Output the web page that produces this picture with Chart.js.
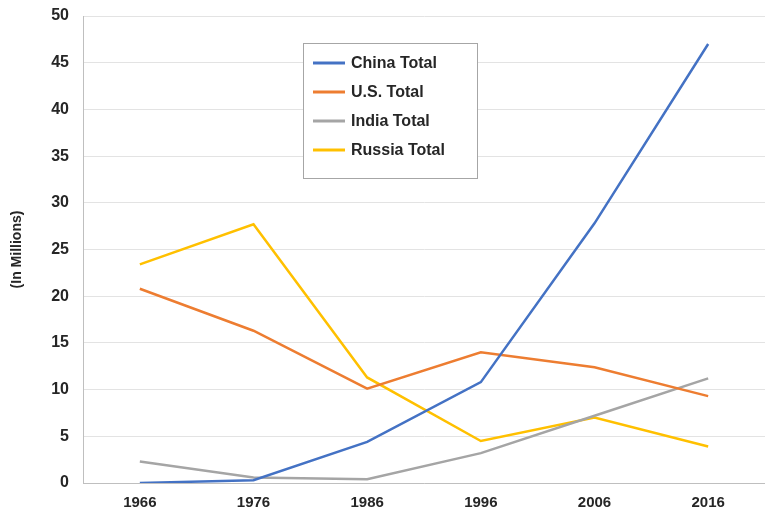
<!DOCTYPE html>
<html>
<head>
<meta charset="utf-8">
<script src="https://cdn.jsdelivr.net/npm/chart.js@4.4.0/dist/chart.umd.min.js"></script>
<style>
  html, body { margin: 0; padding: 0; background: #fff; }
  .chart-wrap { width: 765px; height: 517px; position: relative; }
</style>
</head>
<body>
<div class="chart-wrap"><canvas id="myChart"></canvas></div>
<script>
const years = ['1966', '1976', '1986', '1996', '2006', '2016']

const chinaTotal  = [0.0, 0.3, 4.4, 10.8, 27.8, 47.0]
const usTotal     = [20.8, 16.3, 10.1, 14.0, 12.4, 9.3]
const indiaTotal  = [2.3, 0.6, 0.4, 3.2, 7.2, 11.2]
const russiaTotal = [23.4, 27.7, 11.3, 4.5, 7.0, 3.9]

const yTicks = [0, 5, 10, 15, 20, 25, 30, 35, 40, 45, 50]

const fontFam = '"Liberation Sans Narrow", "Liberation Sans", sans-serif'

// легенда в рамке внутри графика
const boxLegend = {
  id: 'boxLegend',
  afterDraw(chart) {
    const ctx = chart.ctx
    const x = 303, y = 43, w = 174, h = 135
    ctx.save()
    ctx.fillStyle = '#fff'
    ctx.fillRect(x, y, w, h)
    ctx.strokeStyle = '#a6a6a6'
    ctx.lineWidth = 1
    ctx.strokeRect(x + 0.5, y + 0.5, w, h)
    ctx.font = 'bold 16px ' + fontFam
    ctx.textBaseline = 'middle'
    chart.data.datasets.forEach((ds, i) => {
      const ly = y + 20 + i * 29
      ctx.strokeStyle = ds.borderColor
      ctx.lineWidth = 3
      ctx.beginPath()
      ctx.moveTo(x + 10, ly)
      ctx.lineTo(x + 42, ly)
      ctx.stroke()
      ctx.fillStyle = '#262626'
      ctx.fillText(ds.label, x + 48, ly + 1)
    })
    ctx.restore()
  }
}

const ctx = document.getElementById('myChart').getContext('2d')
new Chart(ctx, {
  type: 'line',
  data: {
    labels: years,
    datasets: [
      { label: 'China Total', data: chinaTotal, borderColor: '#4472C4' },
      { label: 'U.S. Total', data: usTotal, borderColor: '#ED7D31' },
      { label: 'India Total', data: indiaTotal, borderColor: '#A5A5A5' },
      { label: 'Russia Total', data: russiaTotal, borderColor: '#FFC000' },
    ]
  },
  options: {
    responsive: true,
    maintainAspectRatio: false,
    animation: false,
    elements: {
      line: { borderWidth: 2.5, tension: 0 },
      point: { radius: 0 }
    },
    layout: { padding: { left: 0, top: 16, right: 0, bottom: 0 } },
    scales: {
      x: {
        offset: true,
        grid: { display: false, drawTicks: false },
        border: { color: '#bfbfbf' },
        ticks: {
          color: '#262626',
          padding: 11,
          font: { family: fontFam, weight: 'bold', size: 15 }
        },
        afterFit: (scale) => { scale.height = 34 }
      },
      y: {
        min: 0,
        max: 50,
        afterBuildTicks: (scale) => { scale.ticks = yTicks.map(v => ({ value: v })) },
        grid: { color: '#e3e3e3', drawTicks: false },
        border: { color: '#bfbfbf' },
        title: {
          display: true,
          text: '(In Millions)',
          color: '#262626',
          padding: { top: 9, bottom: 4 },
          font: { family: fontFam, weight: 'bold', size: 14 }
        },
        ticks: {
          color: '#262626',
          padding: 14,
          font: { family: fontFam, weight: 'bold', size: 16 }
        },
        afterFit: (scale) => {
          scale.width = 83
          scale.paddingTop = 0
          scale.paddingBottom = 0
        }
      }
    },
    plugins: {
      legend: { display: false },
      tooltip: { enabled: false }
    }
  },
  plugins: [boxLegend]
})
</script>
</body>
</html>
